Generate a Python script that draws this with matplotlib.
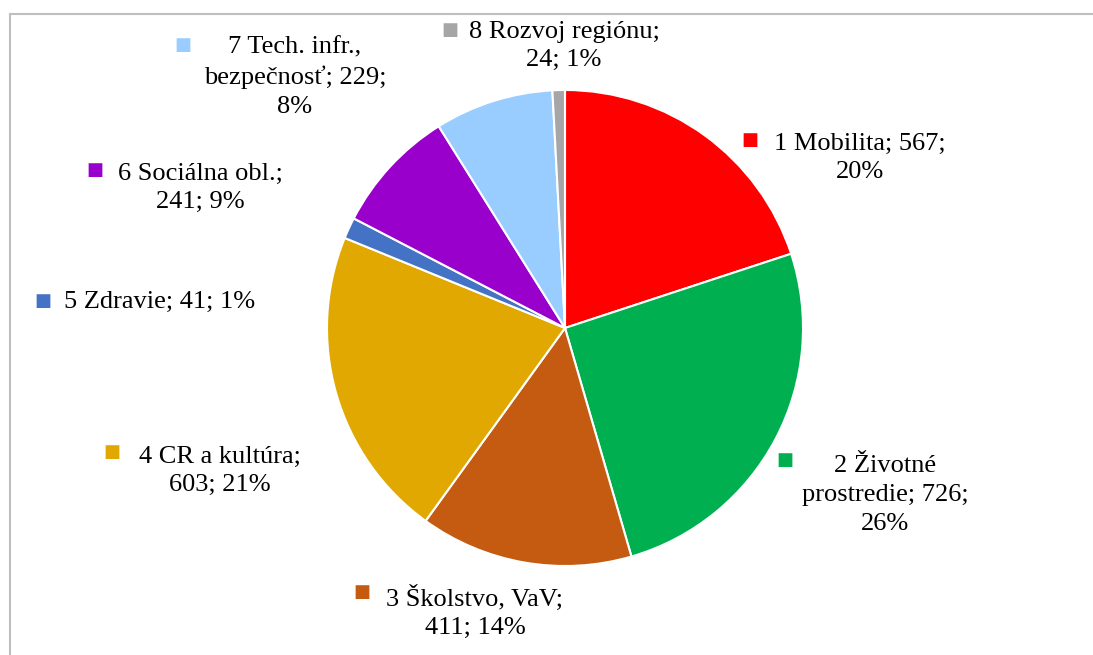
import matplotlib.pyplot as plt
from matplotlib.lines import Line2D

plt.rcParams['font.family'] = ['Liberation Serif', 'DejaVu Serif']

# data
names = ['1 Mobilita', '2 Životné prostredie', '3 Školstvo, VaV', '4 CR a kultúra',
         '5 Zdravie', '6 Sociálna obl.', '7 Tech. infr., bezpečnosť', '8 Rozvoj regiónu']
values = [567, 726, 411, 603, 41, 241, 229, 24]
percents = ['20%', '26%', '14%', '21%', '1%', '9%', '8%', '1%']
label_texts = ['1 Mobilita; 567;\n20%',
               '2 Životné\nprostredie; 726;\n26%',
               '3 Školstvo, VaV;\n411; 14%',
               '4 CR a kultúra;\n603; 21%',
               '5 Zdravie; 41; 1%',
               '6 Sociálna obl.;\n241; 9%',
               '7 Tech. infr.,\nbezpečnosť; 229;\n8%',
               '8 Rozvoj regiónu;\n24; 1%']
colors = ['#FF0000', '#00B050', '#C55A11', '#E0A800',
          '#4472C4', '#9900CC', '#99CCFF', '#A6A6A6']

W, H = 1093, 655
fig = plt.figure(figsize=(W / 100, H / 100), dpi=100)

# pie placement (pixels)
cx, cy, r = 565, 328, 238
ax = fig.add_axes([(cx - r) / W, (H - cy - r) / H, 2 * r / W, 2 * r / H])
ax.pie(values, colors=colors, startangle=90, counterclock=False,
       wedgeprops=dict(edgecolor='white', linewidth=1.5))
ax.set_xlim(-1, 1)
ax.set_ylim(-1, 1)
ax.set_aspect('equal')
ax.axis('off')

# label block centres and legend-square positions (pixels)
text_pos = [(860, 158), (885, 495), (475, 612), (220, 471),
            (160, 302), (200, 188), (295, 77), (564, 46)]
square_pos = [(750, 140), (785, 460), (362, 592), (112, 452),
              (43, 301), (95, 170), (183, 45), (450, 30)]

for txt, (tx, ty), (sx, sy), c in zip(label_texts, text_pos, square_pos, colors):
    fig.text(tx / W, 1 - ty / H, txt, ha='center', va='center',
             fontsize=19, linespacing=1.4, color='black')
    fig.text(sx / W, 1 - sy / H, '■', ha='center', va='center',
             fontsize=13, color=c, family='DejaVu Sans')

# chart-area border (top and left visible)
fig.add_artist(Line2D([10 / W, 1], [1 - 14 / H, 1 - 14 / H], color='#BFBFBF', lw=1.5))
fig.add_artist(Line2D([10 / W, 10 / W], [0, 1 - 14 / H], color='#BFBFBF', lw=1.5))

fig.savefig('out.png', dpi=100)
